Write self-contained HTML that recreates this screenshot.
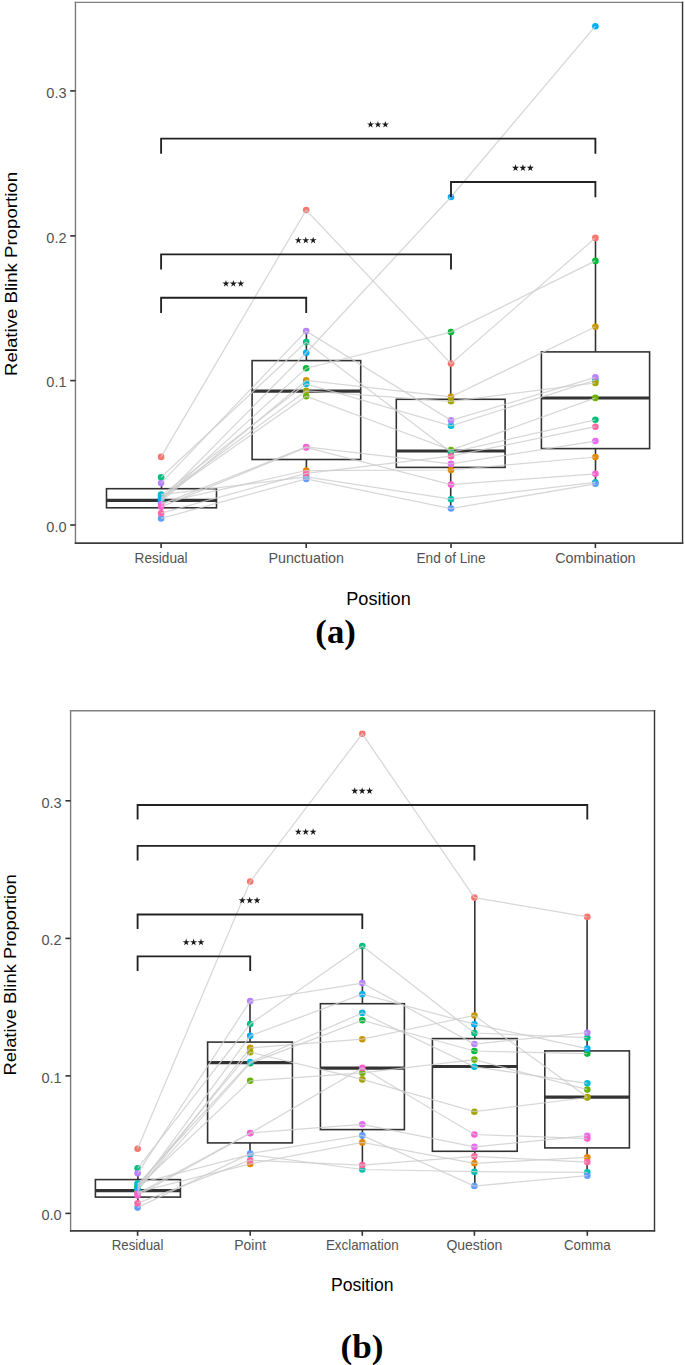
<!DOCTYPE html>
<html><head><meta charset="utf-8"><style>
html,body{margin:0;padding:0;background:#fff;}
svg{display:block;font-family:"Liberation Sans",sans-serif;}
</style></head><body>
<svg width="685" height="1365" viewBox="0 0 685 1365">
<rect width="685" height="1365" fill="#fff"/>
<g stroke="#333" stroke-width="1.6" fill="none"><line x1="161.5" y1="488.7" x2="161.5" y2="477.2"/><line x1="161.5" y1="507.8" x2="161.5" y2="518.4"/><rect x="106.5" y="488.7" width="110.0" height="19.1" fill="none"/><line x1="106.5" y1="500.3" x2="216.5" y2="500.3" stroke-width="3.2"/><line x1="306.4" y1="360.6" x2="306.4" y2="331.1"/><line x1="306.4" y1="459.5" x2="306.4" y2="478.9"/><rect x="252.1" y="360.6" width="108.6" height="98.9" fill="none"/><line x1="252.1" y1="391.1" x2="360.7" y2="391.1" stroke-width="3.2"/><line x1="450.7" y1="399.3" x2="450.7" y2="332.1"/><line x1="450.7" y1="467.4" x2="450.7" y2="508.5"/><rect x="396.3" y="399.3" width="108.8" height="68.1" fill="none"/><line x1="396.3" y1="451.0" x2="505.1" y2="451.0" stroke-width="3.2"/><line x1="595.5" y1="351.9" x2="595.5" y2="237.9"/><line x1="595.5" y1="448.6" x2="595.5" y2="483.8"/><rect x="541.4" y="351.9" width="108.2" height="96.7" fill="none"/><line x1="541.4" y1="398.0" x2="649.6" y2="398.0" stroke-width="3.2"/></g>
<g><circle cx="161.1" cy="456.9" r="3.3" fill="#F8766D"/><circle cx="306.2" cy="210.0" r="3.3" fill="#F8766D"/><circle cx="451.0" cy="363.6" r="3.3" fill="#F8766D"/><circle cx="595.4" cy="237.9" r="3.3" fill="#F8766D"/><circle cx="161.1" cy="503.0" r="3.3" fill="#E58700"/><circle cx="306.2" cy="470.5" r="3.3" fill="#E58700"/><circle cx="451.0" cy="470.0" r="3.3" fill="#E58700"/><circle cx="595.4" cy="457.0" r="3.3" fill="#E58700"/><circle cx="161.1" cy="501.5" r="3.3" fill="#C99800"/><circle cx="306.2" cy="380.4" r="3.3" fill="#C99800"/><circle cx="451.0" cy="396.9" r="3.3" fill="#C99800"/><circle cx="595.4" cy="326.7" r="3.3" fill="#C99800"/><circle cx="161.1" cy="497.5" r="3.3" fill="#A3A500"/><circle cx="306.2" cy="390.9" r="3.3" fill="#A3A500"/><circle cx="451.0" cy="401.3" r="3.3" fill="#A3A500"/><circle cx="161.1" cy="498.0" r="3.3" fill="#6BB100"/><circle cx="306.2" cy="396.2" r="3.3" fill="#6BB100"/><circle cx="451.0" cy="450.0" r="3.3" fill="#6BB100"/><circle cx="595.4" cy="397.9" r="3.3" fill="#6BB100"/><circle cx="161.1" cy="500.5" r="3.3" fill="#00BA38"/><circle cx="306.2" cy="368.2" r="3.3" fill="#00BA38"/><circle cx="451.0" cy="332.1" r="3.3" fill="#00BA38"/><circle cx="595.4" cy="260.9" r="3.3" fill="#00BA38"/><circle cx="161.1" cy="477.2" r="3.3" fill="#00BF7D"/><circle cx="306.2" cy="342.0" r="3.3" fill="#00BF7D"/><circle cx="451.0" cy="452.3" r="3.3" fill="#00BF7D"/><circle cx="595.4" cy="419.8" r="3.3" fill="#00BF7D"/><circle cx="161.1" cy="494.6" r="3.3" fill="#00C0AF"/><circle cx="306.2" cy="477.0" r="3.3" fill="#00C0AF"/><circle cx="451.0" cy="499.2" r="3.3" fill="#00C0AF"/><circle cx="595.4" cy="482.4" r="3.3" fill="#00C0AF"/><circle cx="161.1" cy="495.6" r="3.3" fill="#00BCD8"/><circle cx="306.2" cy="383.9" r="3.3" fill="#00BCD8"/><circle cx="451.0" cy="425.8" r="3.3" fill="#00BCD8"/><circle cx="595.4" cy="380.0" r="3.3" fill="#00BCD8"/><circle cx="161.1" cy="499.7" r="3.3" fill="#00B0F6"/><circle cx="306.2" cy="352.7" r="3.3" fill="#00B0F6"/><circle cx="451.0" cy="197.0" r="3.3" fill="#00B0F6"/><circle cx="595.4" cy="26.2" r="3.3" fill="#00B0F6"/><circle cx="161.1" cy="518.4" r="3.3" fill="#619CFF"/><circle cx="306.2" cy="478.9" r="3.3" fill="#619CFF"/><circle cx="451.0" cy="508.5" r="3.3" fill="#619CFF"/><circle cx="595.4" cy="483.8" r="3.3" fill="#619CFF"/><circle cx="161.1" cy="483.1" r="3.3" fill="#B983FF"/><circle cx="306.2" cy="331.1" r="3.3" fill="#B983FF"/><circle cx="451.0" cy="420.4" r="3.3" fill="#B983FF"/><circle cx="595.4" cy="377.3" r="3.3" fill="#B983FF"/><circle cx="161.1" cy="504.4" r="3.3" fill="#E76BF3"/><circle cx="306.2" cy="447.0" r="3.3" fill="#E76BF3"/><circle cx="451.0" cy="463.8" r="3.3" fill="#E76BF3"/><circle cx="595.4" cy="441.1" r="3.3" fill="#E76BF3"/><circle cx="161.1" cy="506.8" r="3.3" fill="#FD61D1"/><circle cx="306.2" cy="447.4" r="3.3" fill="#FD61D1"/><circle cx="451.0" cy="484.6" r="3.3" fill="#FD61D1"/><circle cx="595.4" cy="473.8" r="3.3" fill="#FD61D1"/><circle cx="161.1" cy="513.2" r="3.3" fill="#FF67A4"/><circle cx="306.2" cy="473.3" r="3.3" fill="#FF67A4"/><circle cx="451.0" cy="456.2" r="3.3" fill="#FF67A4"/><circle cx="595.4" cy="426.7" r="3.3" fill="#FF67A4"/><circle cx="595.4" cy="382.9" r="3.3" fill="#A3A500"/></g>
<g stroke="#cdcdcd" stroke-opacity="0.8" stroke-width="1.25" fill="none"><polyline points="161.1,456.9 306.2,210.0 451.0,363.6 595.4,237.9"/><polyline points="161.1,503.0 306.2,470.5 451.0,470.0 595.4,457.0"/><polyline points="161.1,501.5 306.2,380.4 451.0,396.9 595.4,326.7"/><polyline points="161.1,497.5 306.2,390.9 451.0,401.3 595.4,382.9"/><polyline points="161.1,498.0 306.2,396.2 451.0,450.0 595.4,397.9"/><polyline points="161.1,500.5 306.2,368.2 451.0,332.1 595.4,260.9"/><polyline points="161.1,477.2 306.2,342.0 451.0,452.3 595.4,419.8"/><polyline points="161.1,494.6 306.2,477.0 451.0,499.2 595.4,482.4"/><polyline points="161.1,495.6 306.2,383.9 451.0,425.8 595.4,380.0"/><polyline points="161.1,499.7 306.2,352.7 451.0,197.0 595.4,26.2"/><polyline points="161.1,518.4 306.2,478.9 451.0,508.5 595.4,483.8"/><polyline points="161.1,483.1 306.2,331.1 451.0,420.4 595.4,377.3"/><polyline points="161.1,504.4 306.2,447.0 451.0,463.8 595.4,441.1"/><polyline points="161.1,506.8 306.2,447.4 451.0,484.6 595.4,473.8"/><polyline points="161.1,513.2 306.2,473.3 451.0,456.2 595.4,426.7"/></g>
<g stroke="#222" stroke-width="1.85" fill="none" stroke-linejoin="miter"><polyline points="161.1,153.8 161.1,138.6 595.4,138.6 595.4,153.8"/><polyline points="451.0,197.2 451.0,182.0 595.4,182.0 595.4,197.2"/><polyline points="161.1,269.6 161.1,254.4 451.0,254.4 451.0,269.6"/><polyline points="161.1,312.9 161.1,297.7 306.2,297.7 306.2,312.9"/></g>
<g fill="#1a1a1a"><polygon points="370.55,120.90 371.37,123.47 374.07,123.46 371.88,125.03 372.72,127.59 370.55,126.00 368.38,127.59 369.22,125.03 367.03,123.46 369.73,123.47"/><polygon points="377.95,120.90 378.77,123.47 381.47,123.46 379.28,125.03 380.12,127.59 377.95,126.00 375.78,127.59 376.62,125.03 374.43,123.46 377.13,123.47"/><polygon points="385.35,120.90 386.17,123.47 388.87,123.46 386.68,125.03 387.52,127.59 385.35,126.00 383.18,127.59 384.02,125.03 381.83,123.46 384.53,123.47"/><polygon points="515.50,164.30 516.32,166.87 519.02,166.86 516.83,168.43 517.67,170.99 515.50,169.40 513.33,170.99 514.17,168.43 511.98,166.86 514.68,166.87"/><polygon points="522.90,164.30 523.72,166.87 526.42,166.86 524.23,168.43 525.07,170.99 522.90,169.40 520.73,170.99 521.57,168.43 519.38,166.86 522.08,166.87"/><polygon points="530.30,164.30 531.12,166.87 533.82,166.86 531.63,168.43 532.47,170.99 530.30,169.40 528.13,170.99 528.97,168.43 526.78,166.86 529.48,166.87"/><polygon points="298.35,236.70 299.17,239.27 301.87,239.26 299.68,240.83 300.52,243.39 298.35,241.80 296.18,243.39 297.02,240.83 294.83,239.26 297.53,239.27"/><polygon points="305.75,236.70 306.57,239.27 309.27,239.26 307.08,240.83 307.92,243.39 305.75,241.80 303.58,243.39 304.42,240.83 302.23,239.26 304.93,239.27"/><polygon points="313.15,236.70 313.97,239.27 316.67,239.26 314.48,240.83 315.32,243.39 313.15,241.80 310.98,243.39 311.82,240.83 309.63,239.26 312.33,239.27"/><polygon points="225.95,280.00 226.77,282.57 229.47,282.56 227.28,284.13 228.12,286.69 225.95,285.10 223.78,286.69 224.62,284.13 222.43,282.56 225.13,282.57"/><polygon points="233.35,280.00 234.17,282.57 236.87,282.56 234.68,284.13 235.52,286.69 233.35,285.10 231.18,286.69 232.02,284.13 229.83,282.56 232.53,282.57"/><polygon points="240.75,280.00 241.57,282.57 244.27,282.56 242.08,284.13 242.92,286.69 240.75,285.10 238.58,286.69 239.42,284.13 237.23,282.56 239.93,282.57"/></g>
<line x1="75.45" y1="1.70" x2="75.45" y2="543.90" stroke="#7c7c7c" stroke-width="1.4"/>
<line x1="74.75" y1="2.40" x2="683.25" y2="2.40" stroke="#808080" stroke-width="1.4"/>
<line x1="682.55" y1="1.70" x2="682.55" y2="543.90" stroke="#353535" stroke-width="1.4"/>
<line x1="74.75" y1="543.10" x2="683.25" y2="543.10" stroke="#3c3c3c" stroke-width="1.8"/>
<g stroke="#333" stroke-width="1.6"><line x1="70.2" y1="525.0" x2="75.5" y2="525.0"/><line x1="70.2" y1="380.6" x2="75.5" y2="380.6"/><line x1="70.2" y1="235.9" x2="75.5" y2="235.9"/><line x1="70.2" y1="90.9" x2="75.5" y2="90.9"/><line x1="161.1" y1="543.1" x2="161.1" y2="548.1"/><line x1="306.2" y1="543.1" x2="306.2" y2="548.1"/><line x1="451.0" y1="543.1" x2="451.0" y2="548.1"/><line x1="595.4" y1="543.1" x2="595.4" y2="548.1"/></g>
<g fill="#525252" font-size="14.2"><text x="66.5" y="531.8" text-anchor="end" font-size="15" textLength="20.2" lengthAdjust="spacingAndGlyphs">0.0</text><text x="66.5" y="387.4" text-anchor="end" font-size="15" textLength="20.2" lengthAdjust="spacingAndGlyphs">0.1</text><text x="66.5" y="242.7" text-anchor="end" font-size="15" textLength="20.2" lengthAdjust="spacingAndGlyphs">0.2</text><text x="66.5" y="97.7" text-anchor="end" font-size="15" textLength="20.2" lengthAdjust="spacingAndGlyphs">0.3</text><text x="161.1" y="562.6" text-anchor="middle" textLength="53.0" lengthAdjust="spacingAndGlyphs">Residual</text><text x="306.2" y="562.6" text-anchor="middle" textLength="75.6" lengthAdjust="spacingAndGlyphs">Punctuation</text><text x="451.0" y="562.6" text-anchor="middle" textLength="69.0" lengthAdjust="spacingAndGlyphs">End of Line</text><text x="595.4" y="562.6" text-anchor="middle" textLength="80.4" lengthAdjust="spacingAndGlyphs">Combination</text></g>
<text transform="translate(17.4,274.0) rotate(-90)" text-anchor="middle" font-size="17.2" textLength="204.0" lengthAdjust="spacingAndGlyphs" fill="#000">Relative Blink Proportion</text>
<text x="378.5" y="604.7" text-anchor="middle" font-size="17.6" textLength="64.5" lengthAdjust="spacingAndGlyphs" fill="#000">Position</text>
<text x="335.6" y="643.0" text-anchor="middle" font-family="Liberation Serif" font-weight="bold" font-size="34" textLength="40.5" lengthAdjust="spacingAndGlyphs" fill="#000">(a)</text>
<g stroke="#333" stroke-width="1.6" fill="none"><line x1="137.9" y1="1179.6" x2="137.9" y2="1168.3"/><line x1="137.9" y1="1197.1" x2="137.9" y2="1207.6"/><rect x="95.4" y="1179.6" width="85.0" height="17.5" fill="none"/><line x1="95.4" y1="1190.6" x2="180.4" y2="1190.6" stroke-width="3.2"/><line x1="250.0" y1="1042.1" x2="250.0" y2="1001.1"/><line x1="250.0" y1="1142.9" x2="250.0" y2="1163.9"/><rect x="207.6" y="1042.1" width="84.8" height="100.8" fill="none"/><line x1="207.6" y1="1062.7" x2="292.4" y2="1062.7" stroke-width="3.2"/><line x1="362.4" y1="1003.7" x2="362.4" y2="946.0"/><line x1="362.4" y1="1129.6" x2="362.4" y2="1169.5"/><rect x="320.4" y="1003.7" width="84.0" height="125.9" fill="none"/><line x1="320.4" y1="1068.1" x2="404.4" y2="1068.1" stroke-width="3.2"/><line x1="474.8" y1="1038.6" x2="474.8" y2="897.6"/><line x1="474.8" y1="1151.3" x2="474.8" y2="1186.0"/><rect x="432.4" y="1038.6" width="84.8" height="112.7" fill="none"/><line x1="432.4" y1="1066.5" x2="517.2" y2="1066.5" stroke-width="3.2"/><line x1="587.1" y1="1050.9" x2="587.1" y2="916.9"/><line x1="587.1" y1="1147.9" x2="587.1" y2="1175.7"/><rect x="544.8" y="1050.9" width="84.6" height="97.0" fill="none"/><line x1="544.8" y1="1097.2" x2="629.4" y2="1097.2" stroke-width="3.2"/></g>
<g><circle cx="137.6" cy="1148.8" r="3.3" fill="#F8766D"/><circle cx="250.2" cy="881.6" r="3.3" fill="#F8766D"/><circle cx="362.3" cy="733.8" r="3.3" fill="#F8766D"/><circle cx="474.4" cy="897.6" r="3.3" fill="#F8766D"/><circle cx="587.3" cy="916.9" r="3.3" fill="#F8766D"/><circle cx="137.6" cy="1192.2" r="3.3" fill="#E58700"/><circle cx="250.2" cy="1163.9" r="3.3" fill="#E58700"/><circle cx="362.3" cy="1142.4" r="3.3" fill="#E58700"/><circle cx="474.4" cy="1163.3" r="3.3" fill="#E58700"/><circle cx="587.3" cy="1157.4" r="3.3" fill="#E58700"/><circle cx="137.6" cy="1190.8" r="3.3" fill="#C99800"/><circle cx="250.2" cy="1047.8" r="3.3" fill="#C99800"/><circle cx="362.3" cy="1039.2" r="3.3" fill="#C99800"/><circle cx="474.4" cy="1015.5" r="3.3" fill="#C99800"/><circle cx="587.3" cy="1097.0" r="3.3" fill="#C99800"/><circle cx="137.6" cy="1186.5" r="3.3" fill="#A3A500"/><circle cx="250.2" cy="1052.2" r="3.3" fill="#A3A500"/><circle cx="362.3" cy="1079.4" r="3.3" fill="#A3A500"/><circle cx="474.4" cy="1111.7" r="3.3" fill="#A3A500"/><circle cx="587.3" cy="1097.5" r="3.3" fill="#A3A500"/><circle cx="137.6" cy="1187.0" r="3.3" fill="#6BB100"/><circle cx="250.2" cy="1080.8" r="3.3" fill="#6BB100"/><circle cx="362.3" cy="1072.8" r="3.3" fill="#6BB100"/><circle cx="474.4" cy="1059.6" r="3.3" fill="#6BB100"/><circle cx="587.3" cy="1089.6" r="3.3" fill="#6BB100"/><circle cx="137.6" cy="1189.8" r="3.3" fill="#00BA38"/><circle cx="250.2" cy="1063.2" r="3.3" fill="#00BA38"/><circle cx="362.3" cy="1020.3" r="3.3" fill="#00BA38"/><circle cx="474.4" cy="1051.0" r="3.3" fill="#00BA38"/><circle cx="587.3" cy="1053.6" r="3.3" fill="#00BA38"/><circle cx="137.6" cy="1168.3" r="3.3" fill="#00BF7D"/><circle cx="250.2" cy="1024.0" r="3.3" fill="#00BF7D"/><circle cx="362.3" cy="946.0" r="3.3" fill="#00BF7D"/><circle cx="474.4" cy="1033.0" r="3.3" fill="#00BF7D"/><circle cx="587.3" cy="1037.7" r="3.3" fill="#00BF7D"/><circle cx="137.6" cy="1183.6" r="3.3" fill="#00C0AF"/><circle cx="250.2" cy="1154.6" r="3.3" fill="#00C0AF"/><circle cx="362.3" cy="1169.5" r="3.3" fill="#00C0AF"/><circle cx="474.4" cy="1171.7" r="3.3" fill="#00C0AF"/><circle cx="587.3" cy="1172.4" r="3.3" fill="#00C0AF"/><circle cx="137.6" cy="1184.5" r="3.3" fill="#00BCD8"/><circle cx="250.2" cy="1062.1" r="3.3" fill="#00BCD8"/><circle cx="362.3" cy="1012.9" r="3.3" fill="#00BCD8"/><circle cx="474.4" cy="1066.8" r="3.3" fill="#00BCD8"/><circle cx="587.3" cy="1083.3" r="3.3" fill="#00BCD8"/><circle cx="137.6" cy="1188.9" r="3.3" fill="#00B0F6"/><circle cx="250.2" cy="1035.8" r="3.3" fill="#00B0F6"/><circle cx="362.3" cy="994.2" r="3.3" fill="#00B0F6"/><circle cx="474.4" cy="1024.2" r="3.3" fill="#00B0F6"/><circle cx="587.3" cy="1048.6" r="3.3" fill="#00B0F6"/><circle cx="137.6" cy="1207.6" r="3.3" fill="#619CFF"/><circle cx="250.2" cy="1153.6" r="3.3" fill="#619CFF"/><circle cx="362.3" cy="1135.4" r="3.3" fill="#619CFF"/><circle cx="474.4" cy="1186.0" r="3.3" fill="#619CFF"/><circle cx="587.3" cy="1175.7" r="3.3" fill="#619CFF"/><circle cx="137.6" cy="1173.3" r="3.3" fill="#B983FF"/><circle cx="250.2" cy="1001.1" r="3.3" fill="#B983FF"/><circle cx="362.3" cy="983.1" r="3.3" fill="#B983FF"/><circle cx="474.4" cy="1044.0" r="3.3" fill="#B983FF"/><circle cx="587.3" cy="1032.7" r="3.3" fill="#B983FF"/><circle cx="137.6" cy="1193.6" r="3.3" fill="#E76BF3"/><circle cx="250.2" cy="1133.0" r="3.3" fill="#E76BF3"/><circle cx="362.3" cy="1124.3" r="3.3" fill="#E76BF3"/><circle cx="474.4" cy="1146.9" r="3.3" fill="#E76BF3"/><circle cx="587.3" cy="1135.7" r="3.3" fill="#E76BF3"/><circle cx="137.6" cy="1195.5" r="3.3" fill="#FD61D1"/><circle cx="250.2" cy="1133.3" r="3.3" fill="#FD61D1"/><circle cx="362.3" cy="1067.9" r="3.3" fill="#FD61D1"/><circle cx="474.4" cy="1134.5" r="3.3" fill="#FD61D1"/><circle cx="587.3" cy="1138.6" r="3.3" fill="#FD61D1"/><circle cx="137.6" cy="1203.2" r="3.3" fill="#FF67A4"/><circle cx="250.2" cy="1160.2" r="3.3" fill="#FF67A4"/><circle cx="362.3" cy="1165.1" r="3.3" fill="#FF67A4"/><circle cx="474.4" cy="1156.3" r="3.3" fill="#FF67A4"/><circle cx="587.3" cy="1162.1" r="3.3" fill="#FF67A4"/></g>
<g stroke="#cdcdcd" stroke-opacity="0.8" stroke-width="1.25" fill="none"><polyline points="137.6,1148.8 250.2,881.6 362.3,733.8 474.4,897.6 587.3,916.9"/><polyline points="137.6,1192.2 250.2,1163.9 362.3,1142.4 474.4,1163.3 587.3,1157.4"/><polyline points="137.6,1190.8 250.2,1047.8 362.3,1039.2 474.4,1015.5 587.3,1097.0"/><polyline points="137.6,1186.5 250.2,1052.2 362.3,1079.4 474.4,1111.7 587.3,1097.5"/><polyline points="137.6,1187.0 250.2,1080.8 362.3,1072.8 474.4,1059.6 587.3,1089.6"/><polyline points="137.6,1189.8 250.2,1063.2 362.3,1020.3 474.4,1051.0 587.3,1053.6"/><polyline points="137.6,1168.3 250.2,1024.0 362.3,946.0 474.4,1033.0 587.3,1037.7"/><polyline points="137.6,1183.6 250.2,1154.6 362.3,1169.5 474.4,1171.7 587.3,1172.4"/><polyline points="137.6,1184.5 250.2,1062.1 362.3,1012.9 474.4,1066.8 587.3,1083.3"/><polyline points="137.6,1188.9 250.2,1035.8 362.3,994.2 474.4,1024.2 587.3,1048.6"/><polyline points="137.6,1207.6 250.2,1153.6 362.3,1135.4 474.4,1186.0 587.3,1175.7"/><polyline points="137.6,1173.3 250.2,1001.1 362.3,983.1 474.4,1044.0 587.3,1032.7"/><polyline points="137.6,1193.6 250.2,1133.0 362.3,1124.3 474.4,1146.9 587.3,1135.7"/><polyline points="137.6,1195.5 250.2,1133.3 362.3,1067.9 474.4,1134.5 587.3,1138.6"/><polyline points="137.6,1203.2 250.2,1160.2 362.3,1165.1 474.4,1156.3 587.3,1162.1"/></g>
<g stroke="#222" stroke-width="1.85" fill="none" stroke-linejoin="miter"><polyline points="137.6,819.6 137.6,805.0 587.3,805.0 587.3,819.6"/><polyline points="137.6,860.5 137.6,845.9 474.4,845.9 474.4,860.5"/><polyline points="137.6,929.1 137.6,914.5 362.3,914.5 362.3,929.1"/><polyline points="137.6,970.9 137.6,956.3 250.2,956.3 250.2,970.9"/></g>
<g fill="#1a1a1a"><polygon points="354.75,787.30 355.57,789.87 358.27,789.86 356.08,791.43 356.92,793.99 354.75,792.40 352.58,793.99 353.42,791.43 351.23,789.86 353.93,789.87"/><polygon points="362.15,787.30 362.97,789.87 365.67,789.86 363.48,791.43 364.32,793.99 362.15,792.40 359.98,793.99 360.82,791.43 358.63,789.86 361.33,789.87"/><polygon points="369.55,787.30 370.37,789.87 373.07,789.86 370.88,791.43 371.72,793.99 369.55,792.40 367.38,793.99 368.22,791.43 366.03,789.86 368.73,789.87"/><polygon points="298.30,828.20 299.12,830.77 301.82,830.76 299.63,832.33 300.47,834.89 298.30,833.30 296.13,834.89 296.97,832.33 294.78,830.76 297.48,830.77"/><polygon points="305.70,828.20 306.52,830.77 309.22,830.76 307.03,832.33 307.87,834.89 305.70,833.30 303.53,834.89 304.37,832.33 302.18,830.76 304.88,830.77"/><polygon points="313.10,828.20 313.92,830.77 316.62,830.76 314.43,832.33 315.27,834.89 313.10,833.30 310.93,834.89 311.77,832.33 309.58,830.76 312.28,830.77"/><polygon points="242.25,896.80 243.07,899.37 245.77,899.36 243.58,900.93 244.42,903.49 242.25,901.90 240.08,903.49 240.92,900.93 238.73,899.36 241.43,899.37"/><polygon points="249.65,896.80 250.47,899.37 253.17,899.36 250.98,900.93 251.82,903.49 249.65,901.90 247.48,903.49 248.32,900.93 246.13,899.36 248.83,899.37"/><polygon points="257.05,896.80 257.87,899.37 260.57,899.36 258.38,900.93 259.22,903.49 257.05,901.90 254.88,903.49 255.72,900.93 253.53,899.36 256.23,899.37"/><polygon points="186.20,938.60 187.02,941.17 189.72,941.16 187.53,942.73 188.37,945.29 186.20,943.70 184.03,945.29 184.87,942.73 182.68,941.16 185.38,941.17"/><polygon points="193.60,938.60 194.42,941.17 197.12,941.16 194.93,942.73 195.77,945.29 193.60,943.70 191.43,945.29 192.27,942.73 190.08,941.16 192.78,941.17"/><polygon points="201.00,938.60 201.82,941.17 204.52,941.16 202.33,942.73 203.17,945.29 201.00,943.70 198.83,945.29 199.67,942.73 197.48,941.16 200.18,941.17"/></g>
<line x1="70.60" y1="710.10" x2="70.60" y2="1231.60" stroke="#7c7c7c" stroke-width="1.4"/>
<line x1="69.90" y1="710.80" x2="655.20" y2="710.80" stroke="#808080" stroke-width="1.4"/>
<line x1="654.50" y1="710.10" x2="654.50" y2="1231.60" stroke="#353535" stroke-width="1.4"/>
<line x1="69.90" y1="1230.80" x2="655.20" y2="1230.80" stroke="#3c3c3c" stroke-width="1.8"/>
<g stroke="#333" stroke-width="1.6"><line x1="65.4" y1="1213.4" x2="70.6" y2="1213.4"/><line x1="65.4" y1="1075.9" x2="70.6" y2="1075.9"/><line x1="65.4" y1="938.4" x2="70.6" y2="938.4"/><line x1="65.4" y1="800.8" x2="70.6" y2="800.8"/><line x1="137.6" y1="1230.8" x2="137.6" y2="1235.8"/><line x1="250.2" y1="1230.8" x2="250.2" y2="1235.8"/><line x1="362.3" y1="1230.8" x2="362.3" y2="1235.8"/><line x1="474.4" y1="1230.8" x2="474.4" y2="1235.8"/><line x1="587.3" y1="1230.8" x2="587.3" y2="1235.8"/></g>
<g fill="#525252" font-size="14.2"><text x="61.6" y="1220.2" text-anchor="end" font-size="15" textLength="20.2" lengthAdjust="spacingAndGlyphs">0.0</text><text x="61.6" y="1082.7" text-anchor="end" font-size="15" textLength="20.2" lengthAdjust="spacingAndGlyphs">0.1</text><text x="61.6" y="945.2" text-anchor="end" font-size="15" textLength="20.2" lengthAdjust="spacingAndGlyphs">0.2</text><text x="61.6" y="807.6" text-anchor="end" font-size="15" textLength="20.2" lengthAdjust="spacingAndGlyphs">0.3</text><text x="137.6" y="1250.0" text-anchor="middle" textLength="51.7" lengthAdjust="spacingAndGlyphs">Residual</text><text x="250.2" y="1250.0" text-anchor="middle" textLength="31.8" lengthAdjust="spacingAndGlyphs">Point</text><text x="362.3" y="1250.0" text-anchor="middle" textLength="72.8" lengthAdjust="spacingAndGlyphs">Exclamation</text><text x="474.4" y="1250.0" text-anchor="middle" textLength="56.0" lengthAdjust="spacingAndGlyphs">Question</text><text x="587.3" y="1250.0" text-anchor="middle" textLength="46.8" lengthAdjust="spacingAndGlyphs">Comma</text></g>
<text transform="translate(15.6,974.9) rotate(-90)" text-anchor="middle" font-size="17.2" textLength="201.0" lengthAdjust="spacingAndGlyphs" fill="#000">Relative Blink Proportion</text>
<text x="362.2" y="1290.6" text-anchor="middle" font-size="17.6" textLength="62.6" lengthAdjust="spacingAndGlyphs" fill="#000">Position</text>
<text x="362.1" y="1358.0" text-anchor="middle" font-family="Liberation Serif" font-weight="bold" font-size="34" textLength="43.0" lengthAdjust="spacingAndGlyphs" fill="#000">(b)</text>
</svg>
</body></html>
